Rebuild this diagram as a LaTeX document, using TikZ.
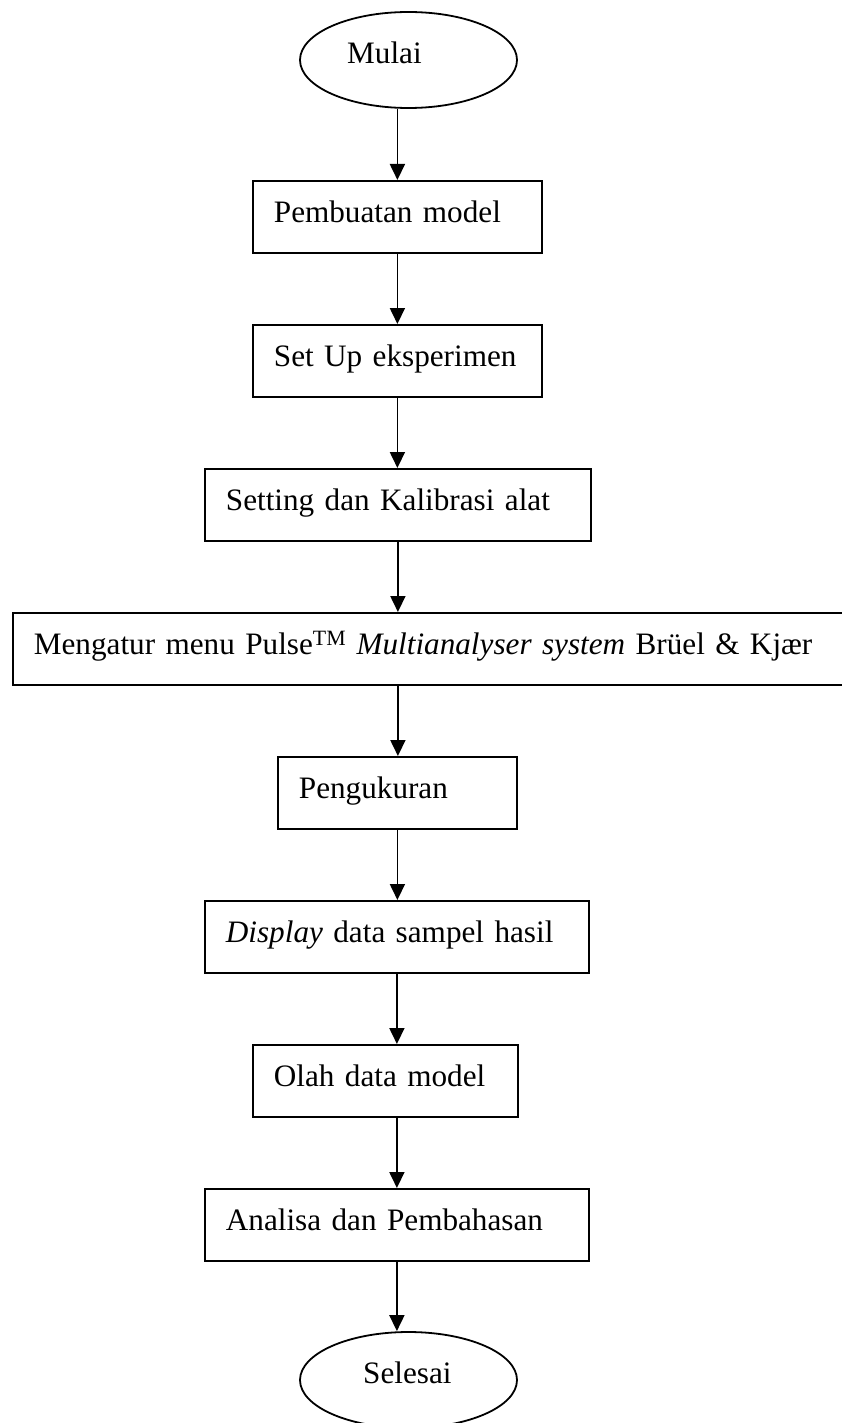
\documentclass[tikz,border=0pt]{standalone}
\usepackage{fontspec}
\setmainfont{Liberation Serif}
\usetikzlibrary{shapes.geometric,arrows.meta,calc}
\newcommand{\fcfont}{\fontsize{31.2pt}{38pt}\selectfont}
\begin{document}
\begin{tikzpicture}[x=1pt,y=-1pt,
  every node/.style={font=\fcfont},
  procbox/.style={draw, line width=1.8pt, inner xsep=21pt, inner ysep=0pt,
    text height=41.5pt, text depth=30.5pt, align=left, anchor=north west},
  termin/.style={draw, ellipse, line width=1.8pt, inner sep=0pt,
    minimum width=217pt, minimum height=96pt},
  lbl/.style={anchor=base west, inner sep=0pt},
  arr/.style={line width=1.8pt, -{Triangle[width=15pt,length=16pt]}}]
\useasboundingbox (0,0) rectangle (842,1423);
\node[termin] (mulai) at (408.5,60) {};
\node[lbl] (mulaitxt) at (347,64) {Mulai};
\node[procbox, text width=247pt] (b1) at (252,180) {Pembuatan model};
\node[procbox, text width=247pt] (b2) at (252,324) {Set Up eksperimen};
\node[procbox, text width=344pt] (b3) at (204,468) {Setting dan Kalibrasi alat};
\node[procbox, text width=806pt] (b4) at (12,612) {Mengatur menu Pulse\textsuperscript{TM} \textit{Multianalyser system} Brüel \& Kjær};
\node[procbox, text width=197pt] (b5) at (277,756) {Pengukuran};
\node[procbox, text width=342pt] (b6) at (204,900) {\textit{Display} data sampel hasil};
\node[procbox, text width=223pt] (b7) at (252,1044) {Olah data model};
\node[procbox, text width=342pt] (b8) at (204,1188) {Analisa dan Pembahasan};
\node[termin] (selesai) at (408.5,1380) {};
\node[lbl] (selesaitxt) at (363,1383) {Selesai};
\draw[arr] (b1.north |- mulai.south) -- (b1.north);
\draw[arr] (b1.south) -- (b2.north);
\draw[arr] (b2.south) -- (b2.south |- b3.north);
\draw[arr] (b3.south) -- (b3.south |- b4.north);
\draw[arr] (b3.south |- b4.south) -- (b3.south |- b5.north);
\draw[arr] (b5.south) -- (b5.south |- b6.north);
\draw[arr] (b6.south) -- (b6.south |- b7.north);
\draw[arr] (b6.south |- b7.south) -- (b6.south |- b8.north);
\draw[arr] (b8.south) -- (b8.south |- selesai.north);
\end{tikzpicture}
\end{document}
